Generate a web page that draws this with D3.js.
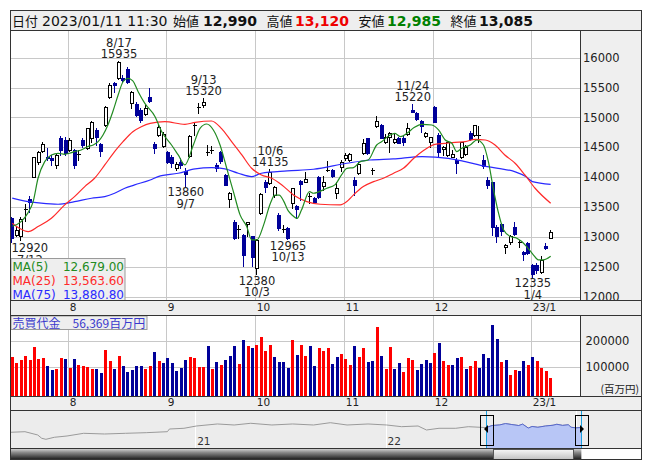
<!DOCTYPE html>
<html><head><meta charset="utf-8">
<script src="https://cdn.jsdelivr.net/npm/d3@7/dist/d3.min.js"></script>
<style>
html,body{margin:0;padding:0;background:#fff;}
svg{display:block;}
</style></head><body>
<svg id="chart" width="653" height="470"></svg>
<script>
// ---------------- DATA ----------------
const dates = ["7/12","7/13","7/14","7/15","7/19","7/20","7/21","7/22","7/25","7/26","7/27","7/28","7/29",
"8/1","8/2","8/3","8/4","8/5","8/8","8/9","8/10","8/12","8/15","8/16","8/17","8/18","8/19","8/22","8/23","8/24","8/25","8/26","8/29","8/30","8/31",
"9/1","9/2","9/5","9/6","9/7","9/8","9/9","9/12","9/13","9/14","9/15","9/16","9/20","9/21","9/22","9/26","9/27","9/28","9/29","9/30",
"10/3","10/4","10/5","10/6","10/7","10/11","10/12","10/13","10/14","10/17","10/18","10/19","10/20","10/21","10/24","10/25","10/26","10/27","10/28","10/31",
"11/1","11/2","11/4","11/7","11/8","11/9","11/10","11/11","11/14","11/15","11/16","11/17","11/18","11/21","11/22","11/24","11/25","11/28","11/29","11/30",
"12/1","12/2","12/5","12/6","12/7","12/8","12/9","12/12","12/13","12/14","12/15","12/16","12/19","12/20","12/21","12/22","12/23","12/26","12/27","12/28","12/29","12/30",
"1/4","1/5","1/6","1/10","1/11"];

const opens = [13314,13036,13025,13465,13630,14010,14250,14440,14345,14316,14205,14650,14622,14455,14455,14385,14622,14483,14650,14790,
14555,14873,15345,15570,15652,15660,15808,15235,15225,15125,15050,15345,14550,14706,14530,14415,14345,14160,14250,14110,
14355,14873,15180,15207,14427,14455,14205,14415,14038,13630,13245,13130,13036,13220,13010,12480,13400,13926,13900,13704,
13360,13130,13147,13565,13520,13935,13915,13690,13648,14010,13860,14120,14120,13730,14175,14316,14290,13955,14077,14400,
14650,14120,14860,14873,14594,14678,14594,14660,14650,14720,15123,15070,14940,14695,14590,15180,14706,14470,14372,14345,
14288,14330,14385,14733,14706,14706,14288,13955,13915,13175,13215,12835,12915,13175,12924,12745,12897,12535,12535,12410,
12855,12990];
const highs = [13340,13175,13340,13550,13690,14340,14440,14595,14480,14372,14400,14695,14678,14650,14470,14455,14650,14830,14940,14830,
14565,15195,15570,15596,15935,15708,15847,15440,15250,15150,15207,15485,14594,14873,14750,14440,14372,14260,14316,14160,
14706,14900,15235,15320,14539,14525,14230,14440,14050,13760,13285,13203,13047,13258,13020,12970,13730,13955,14135,13860,
13400,13203,13160,13826,13537,13955,14093,13730,13676,14020,14020,14270,14135,13926,14290,14400,14400,14010,14250,14640,
14660,14160,15030,14885,14720,14750,14733,14678,14706,14900,15220,15095,14957,14761,14680,15190,14733,14525,14594,14455,
14316,14594,14539,14770,14873,14860,14372,13995,13926,13203,13230,12880,13036,13258,12952,12770,12924,12546,12560,12690,
12900,13120];
const lows = [12920,13010,12950,13260,13425,14000,14215,14425,14290,14205,14160,14372,14372,14440,14160,14290,14510,14470,14594,14539,
14355,14855,15318,15429,15640,15596,15570,15165,15030,14915,15040,15260,14400,14690,14510,14230,14175,14120,14150,13860,
14345,14706,15070,15180,14372,14400,14105,14230,13875,13510,12970,12980,12510,13010,12510,12380,13380,13760,13880,13676,
13120,13091,12965,13480,13314,13620,13915,13565,13580,13660,13785,14105,14010,13660,14105,14290,14270,13704,14050,14385,
14385,14050,14845,14650,14580,14427,14580,14565,14539,14706,15085,14960,14761,14678,14510,14915,14345,14372,14360,14330,
14065,14316,14372,14622,14690,14594,14160,13815,13030,12910,13036,12730,12880,13036,12840,12620,12715,12335,12395,12400,
12800,12985];
const closes = [12980,13120,13300,13465,13590,14330,14425,14555,14315,14280,14372,14455,14400,14630,14205,14385,14539,14817,14915,14678,
14440,15180,15550,15541,15920,15620,15596,15430,15040,14957,15160,15275,14483,14845,14720,14260,14232,14215,14200,14050,
14695,14873,15180,15262,14427,14455,14149,14270,13871,13730,12980,13130,12702,13245,12660,12955,13720,13843,14093,13843,
13147,13130,12985,13815,13470,13880,13970,13690,13592,13676,13926,14120,14025,13815,14260,14372,14385,13871,14215,14565,
14400,14120,14940,14660,14678,14733,14640,14580,14594,14817,15095,14975,14855,14733,14665,14930,14427,14510,14583,14383,
14233,14583,14511,14640,14870,14706,14190,13871,13175,13010,13105,12869,13025,13047,12924,12715,12730,12380,12450,12615,
12815,13085];

// trading value (百万円)
const volumes = [140000,117000,128000,144000,128000,178000,132000,136000,105000,87000,94000,136000,132000,97000,132000,109000,105000,101000,94000,94000,
78000,167000,124000,94000,144000,105000,82000,90000,105000,105000,94000,105000,159000,124000,117000,136000,117000,86000,97000,128000,
140000,136000,101000,101000,182000,94000,120000,109000,128000,144000,182000,113000,205000,182000,174000,186000,217000,163000,186000,140000,
120000,120000,97000,205000,147000,186000,144000,182000,105000,174000,163000,174000,113000,140000,151000,132000,109000,182000,140000,174000,
120000,124000,255000,144000,94000,178000,94000,117000,82000,136000,128000,90000,113000,128000,117000,155000,194000,124000,109000,109000,
136000,140000,94000,105000,124000,97000,151000,136000,263000,209000,120000,128000,71000,90000,86000,124000,109000,140000,124000,97000,
86000,56369];
// bar colour: r = up day, b = down day
const volDir = ("rrrrrrrrbbrrbrbrrrrbbrrbrbbbbbrrbrbbbbbbrrrrbrbrbbbrbrbrrrrbb" +
                "bbrbrrbbrrrbbrrrbrrbbrbrrbbrrrbbbbrbrrbbrbrrbbbbbrbrrbbrbrrrr").split("");

// moving averages: [candle index, value]
const ma5 = [[0,13180],[2,13258],[3.5,13400],[4.7,13592],[5.8,13982],[7.3,14260],[8.8,14372],[10.3,14400],[11.8,14383],[12.9,14400],
[14,14427],[15.5,14455],[17,14511],[18.2,14539],[19.3,14594],[20.4,14706],[21.5,14873],[22.6,15095],[23.8,15374],[24.9,15596],
[26,15652],[27.1,15610],[28.3,15430],[29.8,15235],[32.1,15012],[33.6,14761],[35.8,14539],[37.3,14372],[38.8,14205],[40.7,14539],
[42.2,14817],[43.7,14890],[45.2,14790],[46.7,14539],[48.2,14149],[49.7,13759],[51.2,13370],[52.7,13175],[53.8,12952],[55,12952],
[56.5,13203],[58,13560],[59,13700],[60,13700],[61,13600],[62,13440],[63,13360],[64,13310],[65,13450],[66.8,13759],[67.7,13732],
[70.7,13815],[72.5,13871],[74,14038],[75.2,14149],[76.7,14160],[78.2,14260],[80,14288],[81.9,14539],[83,14594],[84.9,14706],
[86,14733],[87.2,14678],[88.7,14733],[90.3,14830],[92,14885],[94.3,14873],[95.8,14790],[97.3,14622],[98.8,14567],[99.9,14427],
[101,14483],[102.9,14539],[104.4,14622],[105.9,14539],[107,14260],[108.1,13815],[109.2,13425],[110.4,13120],[111.9,13008],
[113.4,12980],[114.5,12924],[115.6,12840],[117.1,12702],[118.2,12618],[119.3,12618],[121,12679]];
const ma25 = [[0,13230],[1.5,13150],[3.6,13090],[5.8,13175],[8.8,13314],[11.8,13537],[14,13676],[16.3,13843],[18.5,13982],[20.8,14205],
[23,14427],[24.9,14594],[27.1,14761],[29,14845],[31,14900],[34.3,14928],[38.8,14884],[41.1,14917],[44.8,14940],[47,14817],
[49.3,14594],[51.6,14372],[53.8,14149],[56,14038],[58.3,13982],[60.6,13871],[63.2,13704],[66.2,13592],[69.2,13548],[73.7,13537],
[75.2,13592],[76.7,13704],[78.9,13843],[81.2,13926],[83.4,13982],[85.7,14066],[87.9,14149],[90.3,14320],[92.5,14450],[95,14550],
[97.3,14567],[99.5,14583],[101.8,14594],[104,14633],[106.3,14622],[108.5,14539],[110.7,14372],[113,14233],[115.2,14038],[117.5,13815],
[121,13564]];
const ma75 = [[0,13650],[3.6,13592],[6.5,13565],[10.3,13548],[14,13592],[17.8,13648],[20.8,13676],[23,13732],[25.3,13815],[27.5,13871],
[31,13954],[32.8,14010],[37.3,14066],[41.1,14138],[44.8,14160],[47.8,14138],[50.8,14066],[53.8,14010],[56,14066],[61.8,14105],
[67.7,14133],[75.2,14233],[80.4,14288],[85.6,14305],[92.1,14344],[98,14316],[101.8,14260],[105.5,14194],[109.2,14149],[112.9,14093],
[115.4,14010],[116.9,13926],[121,13881]];

const maNames = ["MA(5)","MA(25)","MA(75)"];
const maLast = [12679.00, 13563.60, 13880.80];
const maColors = ["#228b22","#ff2a2a","#2a2aff"];

const priceTicks = [12000,12500,13000,13500,14000,14500,15000,15500,16000];
const volTicks = [100000,200000];
const monthLabels = ["8","9","10","11","12","23/1"];
const monthFirstDates = ["8/1","9/1","10/3","11/1","12/1","1/4"];

// high / low annotations
const annDates  = ["7/12","8/17","9/7","9/13","10/3","10/6","10/13","11/24","1/4"];
const annValues = [12920,15935,13860,15320,12380,14135,12965,15220,12335];
const annKinds  = ["low","high","low","high","low","high","low","high","low"];

// navigator (long history) : [year, value]
const navPts = [[2020.03,10000],[2020.106,10380],[2020.173,8280],[2020.194,6180],[2020.216,5540],[2020.26,6815],[2020.327,7640],
[2020.414,9360],[2020.524,8920],[2020.634,9360],[2020.743,9750],[2020.854,10380],[2020.865,12100],[2020.941,12550],[2021.007,14010],
[2021.117,15290],[2021.205,14650],[2021.292,15730],[2021.403,14650],[2021.512,15290],[2021.622,14650],[2021.71,16110],[2021.798,14650],
[2021.908,15290],[2022.006,14650],[2022.084,13570],[2022.171,14010],[2022.215,11460],[2022.281,12550],[2022.369,12550],[2022.435,13570],
[2022.528,13000],[2022.56,14300],[2022.6,14700],[2022.63,15550],[2022.66,15000],[2022.7,14300],[2022.72,15200],[2022.75,12700],
[2022.77,13700],[2022.8,13200],[2022.84,14000],[2022.88,14500],[2022.9,15100],[2022.93,14400],[2022.96,14800],[2022.975,13200],
[2023.0,12800],[2023.03,13085]];
const navYearTicks = [2021,2022,2023];
const navYearLabels = ["21","22","23"];
const navSel = [2022.528, 2023.03];

const headerDate = "2023/01/11 11:30";

// ---------------- LAYOUT ----------------
const FONT = '"DejaVu Sans","Noto Sans CJK JP",sans-serif';
const JFONT = '"Noto Sans CJK JP","DejaVu Sans",sans-serif';
const FL = 10.5, FR = 641.5, PR = 580.5;
const HT = 10.5, MT = 30.5, MB = 300.5, A1B = 315.5, VB = 396.5, A2B = 410.5, NB = 448.5, SB = 459.5;
const GRID = "#c8c8c8", BLUE = "#000099", RED = "#ff0000";

const svg = d3.select("#chart").attr("font-family", FONT);
const defs = svg.append("defs");
const crisp = v => Math.round(v) + 0.5;
const fmt = d3.format(",");

const x = d3.scaleLinear().domain([-0.5, 127.5]).range([10, 579.6]);
const y = d3.scaleLinear().domain([12000, 16000]).range([296.8, 57.6]);
const vy = d3.scaleLinear().domain([0, 200000]).range([393, 341]);

defs.append("clipPath").attr("id","mainClip").append("rect")
  .attr("x",FL).attr("y",MT).attr("width",PR-FL).attr("height",MB-MT);

// ---------- header ----------
svg.append("rect").attr("x",FL).attr("y",HT).attr("width",FR-FL).attr("height",MT-HT)
  .attr("fill","#eeeeee").attr("stroke","#333");
const n = dates.length, last = n - 1;
const hdr = [
  {t:"日付", x:12, k:"j", c:"#111"},
  {t:headerDate, x:42, k:"n", c:"#111"},
  {t:"始値", x:173, k:"j", c:"#111"},
  {t:fmt(opens[last]), x:203, k:"b", c:"#111"},
  {t:"高値", x:266.5, k:"j", c:"#111"},
  {t:fmt(highs[last]), x:295, k:"b", c:"#ee0000"},
  {t:"安値", x:358.5, k:"j", c:"#111"},
  {t:fmt(lows[last]), x:387, k:"b", c:"#008000"},
  {t:"終値", x:450.5, k:"j", c:"#111"},
  {t:fmt(closes[last]), x:479, k:"b", c:"#111"}
];
svg.append("g").selectAll("text").data(hdr).join("text")
  .attr("x",d=>d.x).attr("y",25.5)
  .attr("font-family",d=>d.k==="j"?JFONT:FONT)
  .attr("font-size",d=>d.k==="b"?14:(d.k==="j"?13:14)).attr("font-weight",d=>d.k==="b"?"bold":"normal")
  .attr("fill",d=>d.c).text(d=>d.t);

// ---------- panels ----------
svg.append("rect").attr("x",FL).attr("y",MT).attr("width",PR-FL).attr("height",MB-MT).attr("fill","#fff");
svg.append("rect").attr("x",PR).attr("y",MT).attr("width",FR-PR).attr("height",MB-MT).attr("fill","#efefef");
svg.append("rect").attr("x",FL).attr("y",MB).attr("width",FR-FL).attr("height",A1B-MB).attr("fill","#eeeeee");
svg.append("rect").attr("x",FL).attr("y",A1B).attr("width",PR-FL).attr("height",VB-A1B).attr("fill","#fff");
svg.append("rect").attr("x",PR).attr("y",A1B).attr("width",FR-PR).attr("height",VB-A1B).attr("fill","#efefef");
svg.append("rect").attr("x",FL).attr("y",VB).attr("width",FR-FL).attr("height",A2B-VB).attr("fill","#eeeeee");

// ---------- grid ----------
const monthIdx = monthFirstDates.map(d => dates.indexOf(d));
const gGrid = svg.append("g").attr("stroke",GRID).attr("stroke-width",1).attr("shape-rendering","crispEdges");
gGrid.selectAll(".hp").data(priceTicks).join("line")
  .attr("x1",FL).attr("x2",PR).attr("y1",d=>crisp(y(d))).attr("y2",d=>crisp(y(d)));
gGrid.selectAll(".vm").data(monthIdx).join("line")
  .attr("x1",d=>crisp(x(d-0.5))).attr("x2",d=>crisp(x(d-0.5))).attr("y1",MT).attr("y2",MB);
gGrid.selectAll(".hv").data(volTicks).join("line").attr("class","hv")
  .attr("x1",FL).attr("x2",PR).attr("y1",d=>crisp(vy(d))).attr("y2",d=>crisp(vy(d)));
gGrid.selectAll(".vv").data(monthIdx).join("line").attr("class","vv")
  .attr("x1",d=>crisp(x(d-0.5))).attr("x2",d=>crisp(x(d-0.5))).attr("y1",A1B).attr("y2",VB);

// ---------- candles ----------
const candles = d3.range(n).map(i => ({i, o:opens[i], h:highs[i], l:lows[i], c:closes[i]}));
const gC = svg.append("g").attr("clip-path","url(#mainClip)").attr("shape-rendering","crispEdges");
candles.forEach(d => {
  const left = Math.round(x(d.i) - 2);
  const up = d.c > d.o, doji = d.c === d.o;
  const col = (up || doji) ? "#000" : BLUE;
  const wx = left + 1.5;
  gC.append("line").attr("x1",wx).attr("x2",wx)
    .attr("y1",Math.round(y(d.h))).attr("y2",Math.round(y(d.l))+1).attr("stroke",col);
  if (doji) {
    gC.append("line").attr("x1",left).attr("x2",left+4)
      .attr("y1",crisp(y(d.o))).attr("y2",crisp(y(d.o))).attr("stroke","#000");
  } else {
    const t = Math.round(y(Math.max(d.o,d.c))), b = Math.round(y(Math.min(d.o,d.c)));
    gC.append("rect").attr("x",left+0.5).attr("y",t+0.5).attr("width",3).attr("height",Math.max(1,b-t))
      .attr("fill", up ? "#fff" : BLUE).attr("stroke", up ? "#000" : BLUE);
  }
});

// ---------- moving averages ----------
const line = d3.line().x(d=>x(d[0])).y(d=>y(d[1])).curve(d3.curveMonotoneX);
const gMA = svg.append("g").attr("clip-path","url(#mainClip)").attr("fill","none").attr("stroke-width",1.2);
[ma75, ma25, ma5].forEach((arr,k) => {
  gMA.append("path").attr("d",line(arr)).attr("stroke",maColors[2-k]);
});

// ---------- annotations ----------
const gA = svg.append("g").attr("font-size",11.5).attr("fill","#222").attr("text-anchor","middle");
annDates.forEach((dt,k) => {
  const idx = dates.indexOf(dt), v = annValues[k];
  const cx = x(idx), py = y(v);
  const lines = annKinds[k] === "high" ? [[dt, py-14.5],[String(v), py-3]] : [[String(v), py+10.5],[dt, py+22]];
  const ts = lines.map(l => gA.append("text").attr("x",cx).attr("y",l[1]).text(l[0]));
  const w = d3.max(ts, t => t.node().getComputedTextLength());
  let c = cx;
  if (c - w/2 < FL + 1) c = FL + 1 + w/2;
  if (c + w/2 > PR - 1) c = PR - 1 - w/2;
  ts.forEach(t => t.attr("x", c));
});

// ---------- MA legend ----------
const gL = svg.append("g");
gL.append("rect").attr("x",11).attr("y",258.5).attr("width",114).attr("height",MB-258.5)
  .attr("fill","#eeeeee").attr("stroke","#9a9a9a");
maNames.forEach((nm,k) => {
  const by = 270.5 + k*14.2;
  gL.append("text").attr("x",12.5).attr("y",by).attr("font-size",12).attr("fill",maColors[k]).text(nm);
  gL.append("text").attr("x",124).attr("y",by).attr("font-size",12).attr("text-anchor","end")
    .attr("fill",maColors[k]).text(d3.format(",.2f")(maLast[k]));
});

// ---------- price axis ----------
const gy = svg.append("g").attr("transform","translate(583,0)")
  .call(d3.axisRight(y).tickValues(priceTicks).tickSize(0).tickPadding(0).tickFormat(d3.format("d")));
gy.select(".domain").remove();
gy.attr("font-family",FONT).attr("font-size",11.5);
gy.selectAll("text").attr("fill","#222");

// ---------- date axes ----------
function dateAxis(ty){
  const g = svg.append("g").attr("transform",`translate(0,${ty})`)
    .call(d3.axisBottom(x).tickValues(monthIdx.map(i=>i-0.5)).tickSize(0).tickPadding(0)
      .tickFormat((d,k)=>monthLabels[k]));
  g.select(".domain").remove();
  g.attr("font-family",FONT).attr("font-size",10.5);
  g.selectAll("text").attr("text-anchor","start").attr("dx",1.5).attr("fill","#222");
}
dateAxis(303.5);
dateAxis(399);

// ---------- volume ----------
const gV = svg.append("g").attr("shape-rendering","crispEdges");
gV.selectAll("rect").data(volumes).join("rect")
  .attr("x",(d,i)=>Math.round(x(i)-1.5)).attr("width",3)
  .attr("y",d=>Math.round(vy(d))).attr("height",d=>Math.round(VB)-Math.round(vy(d)))
  .attr("fill",(d,i)=>volDir[i]==="r"?RED:BLUE);
const gvy = svg.append("g").attr("transform","translate(585.5,0)")
  .call(d3.axisRight(vy).tickValues(volTicks).tickSize(0).tickPadding(0).tickFormat(d3.format("d")));
gvy.select(".domain").remove();
gvy.attr("font-family",FONT).attr("font-size",11.5);
gvy.selectAll("text").attr("fill","#222");
svg.append("text").attr("x",639).attr("y",393).attr("text-anchor","end").attr("font-size",10.5)
  .attr("font-family",JFONT).attr("fill","#222").text("(百万円)");
svg.append("rect").attr("x",11).attr("y",316).attr("width",136).attr("height",13.5)
  .attr("fill","#eeeeee").attr("stroke","#9a9a9a");
svg.append("text").attr("x",12.5).attr("y",327.5).attr("font-size",12).attr("font-family",JFONT)
  .attr("fill","#3a3acc").text("売買代金\u3000" + fmt(volumes[last]) + "百万円");

// ---------- navigator ----------
const nx = d3.scaleLinear().domain([2020.03, 2023.03]).range([FL, 581.6]);
const ny = d3.scaleLinear().domain([0, 24000]).range([448, 410.3]);
svg.append("rect").attr("x",FL).attr("y",A2B).attr("width",FR-FL).attr("height",NB-A2B).attr("fill","#ececec");
defs.append("clipPath").attr("id","navClip").append("rect")
  .attr("x",FL).attr("y",A2B).attr("width",581.6-FL).attr("height",NB-A2B);
defs.append("clipPath").attr("id","selClip").append("rect")
  .attr("x",nx(navSel[0])).attr("y",A2B).attr("width",nx(navSel[1])-nx(navSel[0])).attr("height",NB-A2B);
const gN = svg.append("g").attr("clip-path","url(#navClip)");
gN.selectAll(".yl").data(navYearTicks).join("line")
  .attr("x1",d=>crisp(nx(d))).attr("x2",d=>crisp(nx(d))).attr("y1",A2B).attr("y2",NB)
  .attr("stroke","#fff").attr("shape-rendering","crispEdges");
gN.selectAll(".yt").data(navYearTicks).join("text")
  .attr("x",d=>nx(d)+2).attr("y",445).attr("font-size",10.5).attr("fill","#333")
  .text((d,k)=>navYearLabels[k]);
const nline = d3.line().x(d=>nx(d[0])).y(d=>ny(d[1]));
const narea = d3.area().x(d=>nx(d[0])).y0(NB).y1(d=>ny(d[1]));
gN.append("path").attr("d",nline(navPts)).attr("fill","none").attr("stroke","#9a9a9a").attr("stroke-width",1);
const gS = gN.append("g").attr("clip-path","url(#selClip)");
gS.append("path").attr("d",narea(navPts)).attr("fill","#b8c6f6");
gS.append("path").attr("d",nline(navPts)).attr("fill","none").attr("stroke","#5566cc").attr("stroke-width",1);
navSel.forEach((s,k) => {
  const sx = crisp(nx(s)) - (k===1?1:0);
  svg.append("line").attr("x1",sx).attr("x2",sx).attr("y1",A2B).attr("y2",NB)
    .attr("stroke","#1aa0e0").attr("shape-rendering","crispEdges");
  svg.append("rect").attr("x",Math.round(sx-7)+0.5).attr("y",415.5).attr("width",13).attr("height",30)
    .attr("fill","none").attr("stroke","#000").attr("shape-rendering","crispEdges");
  const tx = sx + 0.5, tyc = 429;
  const pts = k===0 ? [[tx-3,tyc],[tx+1,tyc-4],[tx+1,tyc+4]] : [[tx+2,tyc],[tx-2,tyc-4],[tx-2,tyc+4]];
  svg.append("path").attr("d","M"+pts.map(p=>p.join(",")).join("L")+"Z").attr("fill","#000");
});

// ---------- scrollbar ----------
const g1 = defs.append("linearGradient").attr("id","darkG").attr("x1",0).attr("y1",0).attr("x2",0).attr("y2",1);
g1.append("stop").attr("offset","0%").attr("stop-color","#d8d8d8");
g1.append("stop").attr("offset","35%").attr("stop-color","#8c8c8c");
g1.append("stop").attr("offset","100%").attr("stop-color","#1c1c1c");
const g2 = defs.append("linearGradient").attr("id","lightG").attr("x1",0).attr("y1",0).attr("x2",0).attr("y2",1);
g2.append("stop").attr("offset","0%").attr("stop-color","#fafafa");
g2.append("stop").attr("offset","100%").attr("stop-color","#c4c4c4");
svg.append("rect").attr("x",FL).attr("y",NB).attr("width",581.6-FL).attr("height",SB-NB).attr("fill","url(#darkG)");
svg.append("rect").attr("x",581.6).attr("y",NB).attr("width",FR-581.6).attr("height",SB-NB).attr("fill","#fff");
svg.append("rect").attr("x",493.5).attr("y",NB+0.5).attr("width",80).attr("height",SB-NB-1)
  .attr("fill","url(#lightG)").attr("stroke","#555").attr("shape-rendering","crispEdges");

// ---------- frame lines ----------
const gF = svg.append("g").attr("stroke","#333").attr("fill","none").attr("shape-rendering","crispEdges");
[MT, MB, A1B, VB, A2B, NB].forEach(v => gF.append("line").attr("x1",FL).attr("x2",FR).attr("y1",v).attr("y2",v));
gF.append("line").attr("x1",PR).attr("x2",PR).attr("y1",MT).attr("y2",MB);
gF.append("line").attr("x1",PR).attr("x2",PR).attr("y1",A1B).attr("y2",VB);
gF.append("rect").attr("x",FL).attr("y",HT).attr("width",FR-FL).attr("height",SB-HT);
</script>
</body></html>
